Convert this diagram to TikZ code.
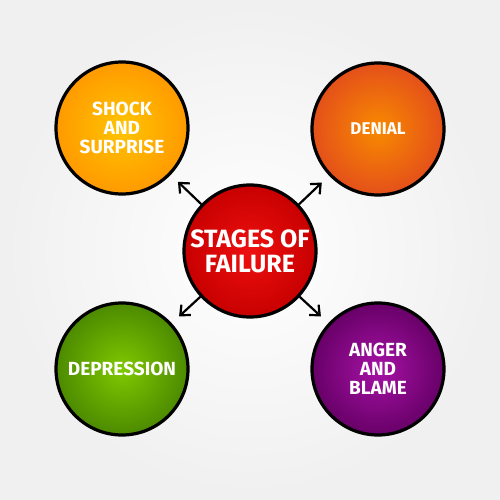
\documentclass[tikz,border=0pt]{standalone}
\usepackage{fontspec}
\setmainfont{Fira Sans}
\usetikzlibrary{arrows.meta}
\definecolor{shockin}{HTML}{FFC400}
\definecolor{shockout}{HTML}{FF9A00}
\definecolor{denialin}{HTML}{F88A00}
\definecolor{denialout}{HTML}{E4501A}
\definecolor{stagesin}{HTML}{EE1010}
\definecolor{stagesout}{HTML}{C80000}
\definecolor{deprin}{HTML}{80C800}
\definecolor{deprout}{HTML}{4C8A00}
\definecolor{angerin}{HTML}{A512A5}
\definecolor{angerout}{HTML}{680068}

\begin{document}
\begin{tikzpicture}[x=1pt,y=-1pt,
  stage/.style={draw=black,circle,line width=3.2pt,minimum size=132pt,inner sep=0pt,
    align=center,text=white,font=\bfseries\fontsize{19}{19}\selectfont},
  link/.style={-{Straight Barb[length=8pt,width=14pt,line width=2.2pt]},line width=2.2pt,shorten >=10pt}]
  % Background
  \useasboundingbox (0,0) rectangle (500,500);
  \shade[inner color=white,outer color=black!6] (0,0) rectangle (500,500);

  % Centre
  \node[stage,inner color=stagesin,outer color=stagesout,
    font=\bfseries\fontsize{25}{25}\selectfont] (stages) at (250,251) {STAGES OF\\FAILURE};

  % Stages
  \node[stage,inner color=shockin,outer color=shockout] (shock) at (122,128) {SHOCK\\AND\\SURPRISE};
  \node[stage,inner color=denialin,outer color=denialout,font=\bfseries\fontsize{17}{17}\selectfont] (denial) at (378,129) {DENIAL};
  \node[stage,inner color=deprin,outer color=deprout] (depression) at (122,369) {DEPRESSION};
  \node[stage,inner color=angerin,outer color=angerout] (anger) at (378,369) {ANGER\\AND\\BLAME};

  % Arrows
  \draw[link] (stages) -- (shock);
  \draw[link] (stages) -- (denial);
  \draw[link] (stages) -- (depression);
  \draw[link] (stages) -- (anger);
\end{tikzpicture}
\end{document}
